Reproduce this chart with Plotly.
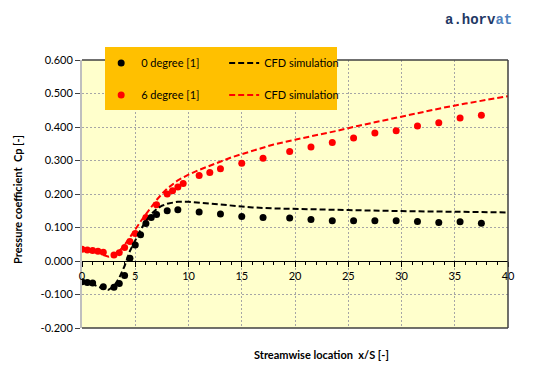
import plotly.graph_objects as go

# ---- data ----
x0_exp = [0, 0.5, 1, 2, 3, 3.5, 4, 4.5, 5, 5.5, 6, 6.5, 7, 8, 9, 11, 13, 15, 17,
          19.5, 21.5, 23.5, 25.5, 27.5, 29.5, 31.5, 33.5, 35.5, 37.5]
cp0_exp = [-0.062, -0.064, -0.066, -0.077, -0.078, -0.067, -0.043, 0.008, 0.048, 0.078,
           0.112, 0.130, 0.139, 0.150, 0.153, 0.146, 0.140, 0.133, 0.130,
           0.128, 0.124, 0.120, 0.120, 0.120, 0.120, 0.118, 0.115, 0.117, 0.113]

x6_exp = [0, 0.5, 1, 1.5, 2, 3, 3.5, 4, 4.5, 5, 6, 7, 8, 8.5, 9, 9.5, 11, 12, 13, 15, 17,
          19.5, 21.5, 23.5, 25.5, 27.5, 29.5, 31.5, 33.5, 35.5, 37.5]
cp6_exp = [0.035, 0.033, 0.031, 0.029, 0.026, 0.018, 0.025, 0.040, 0.058, 0.082,
           0.130, 0.168, 0.200, 0.210, 0.221, 0.231, 0.255, 0.264, 0.275, 0.292, 0.307,
           0.327, 0.340, 0.354, 0.367, 0.382, 0.389, 0.403, 0.413, 0.427, 0.435]

x0_cfd = [0, 0.5, 1, 1.5, 2, 2.5, 3, 3.5, 4, 4.5, 5, 5.5, 6, 6.5, 7, 7.5, 8, 9, 10, 11,
          12, 14, 16, 18, 20, 25, 30, 35, 40]
cp0_cfd = [-0.063, -0.065, -0.069, -0.076, -0.083, -0.086, -0.075, -0.050, -0.015, 0.030,
           0.063, 0.093, 0.120, 0.140, 0.155, 0.165, 0.171, 0.177, 0.177, 0.174,
           0.171, 0.165, 0.160, 0.157, 0.155, 0.152, 0.149, 0.147, 0.145]

x6_cfd = [2, 2.5, 3, 3.5, 4, 4.5, 5, 5.5, 6, 6.5, 7, 7.5, 8, 9, 10, 11, 12, 13, 14, 15,
          16, 18, 20, 22, 24, 26, 28, 30, 32, 34, 36, 38, 40]
cp6_cfd = [0.018, 0.013, 0.018, 0.030, 0.048, 0.070, 0.094, 0.118, 0.140, 0.162, 0.182,
           0.200, 0.216, 0.241, 0.258, 0.272, 0.285, 0.298, 0.309, 0.319,
           0.329, 0.348, 0.362, 0.375, 0.389, 0.404, 0.418, 0.432, 0.446, 0.458, 0.470,
           0.481, 0.492]

y_ticks = [-0.2, -0.1, 0.0, 0.1, 0.2, 0.3, 0.4, 0.5, 0.6]
y_tick_labels = ["-0.200", "-0.100", "0.000", "0.100", "0.200", "0.300", "0.400", "0.500", "0.600"]
x_ticks = [0, 5, 10, 15, 20, 25, 30, 35, 40]

FONT = "Lato"
dash = "6px,3px"

fig = go.Figure()
fig.add_trace(go.Scatter(x=x6_exp, y=cp6_exp, mode="markers", name="6 degree [1]",
                         marker=dict(color="#FF0000", size=7), legend="legend2"))
fig.add_trace(go.Scatter(x=x0_exp, y=cp0_exp, mode="markers", name="0 degree [1]",
                         marker=dict(color="#000000", size=7), legend="legend"))
fig.add_trace(go.Scatter(x=x6_cfd, y=cp6_cfd, mode="lines", name="CFD simulation",
                         line=dict(color="#FF0000", width=2, dash=dash), legend="legend2"))
fig.add_trace(go.Scatter(x=x0_cfd, y=cp0_cfd, mode="lines", name="CFD simulation",
                         line=dict(color="#000000", width=2, dash=dash), legend="legend"))

legend_common = dict(orientation="h", bgcolor="rgba(0,0,0,0)", xanchor="left",
                     yanchor="middle", entrywidth=78, entrywidthmode="pixels",
                     font=dict(family=FONT, size=11, color="#000"), traceorder="normal")
fig.update_layout(
    width=560, height=382,
    margin=dict(l=82, r=52, t=60, b=54, autoexpand=False),
    paper_bgcolor="white",
    plot_bgcolor="#FFFFCC",
    font=dict(family=FONT, size=10, color="#000"),
    legend=dict(x=0.045, y=0.989, **legend_common),
    legend2=dict(x=0.045, y=0.869, **legend_common),
    xaxis=dict(range=[0, 40], tickvals=x_ticks, showgrid=True, gridcolor="#A6A6A6",
               griddash="2px,2px", gridwidth=1, zeroline=False, automargin=False,
               showline=True, linecolor="#000", linewidth=1,
               anchor="free", position=0.25,
               ticks="outside", ticklen=5, tickcolor="#000",
               minor=dict(dtick=1, ticks="outside", ticklen=3, tickcolor="#000", showgrid=False),
               tickfont=dict(family=FONT, size=11)),
    yaxis=dict(range=[-0.2, 0.6], tickvals=y_ticks, ticktext=y_tick_labels,
               showgrid=True, gridcolor="#A6A6A6", griddash="2px,2px", gridwidth=1,
               zeroline=False, showline=True, linecolor="#BFBFBF", linewidth=2,
               automargin=False,
               ticks="outside", ticklen=5, tickcolor="#404040",
               tickfont=dict(family=FONT, size=11)),
    shapes=[
        dict(type="line", xref="paper", yref="paper", x0=0, x1=1, y0=1, y1=1,
             line=dict(color="#404040", width=1.5)),
        dict(type="line", xref="paper", yref="paper", x0=1, x1=1, y0=0, y1=1,
             line=dict(color="#404040", width=1.5)),
        dict(type="line", xref="paper", yref="paper", x0=0, x1=1, y0=0, y1=0,
             line=dict(color="#404040", width=1.5)),
        dict(type="rect", xref="paper", yref="paper", x0=0.054, x1=0.5986,
             y0=0.8134, y1=1.0485, fillcolor="#FFC000", line=dict(width=0)),
    ],
    annotations=[
        dict(text="<b>Pressure coefficient  Cp [-]</b>", xref="paper", yref="paper",
             x=-0.151, y=0.48, xanchor="center", yanchor="middle", textangle=-90,
             showarrow=False, font=dict(family=FONT, size=11)),
        dict(text="<b>Streamwise location  x/S [-]</b>", xref="paper", yref="paper",
             x=0.562, y=-0.1, xanchor="center", yanchor="middle", showarrow=False,
             font=dict(family=FONT, size=11)),
        dict(text="<b>a.horv<span style='color:#4F81BD'>at</span></b>",
             xref="paper", yref="paper", x=1.015, y=1.15, xanchor="right",
             yanchor="middle", showarrow=False,
             font=dict(family="Liberation Mono", size=14, color="#1F3864")),
    ],
)

fig.write_html("out.html", config={"displayModeBar": False},
               post_script="document.body.style.margin='0';document.body.style.padding='0';")
